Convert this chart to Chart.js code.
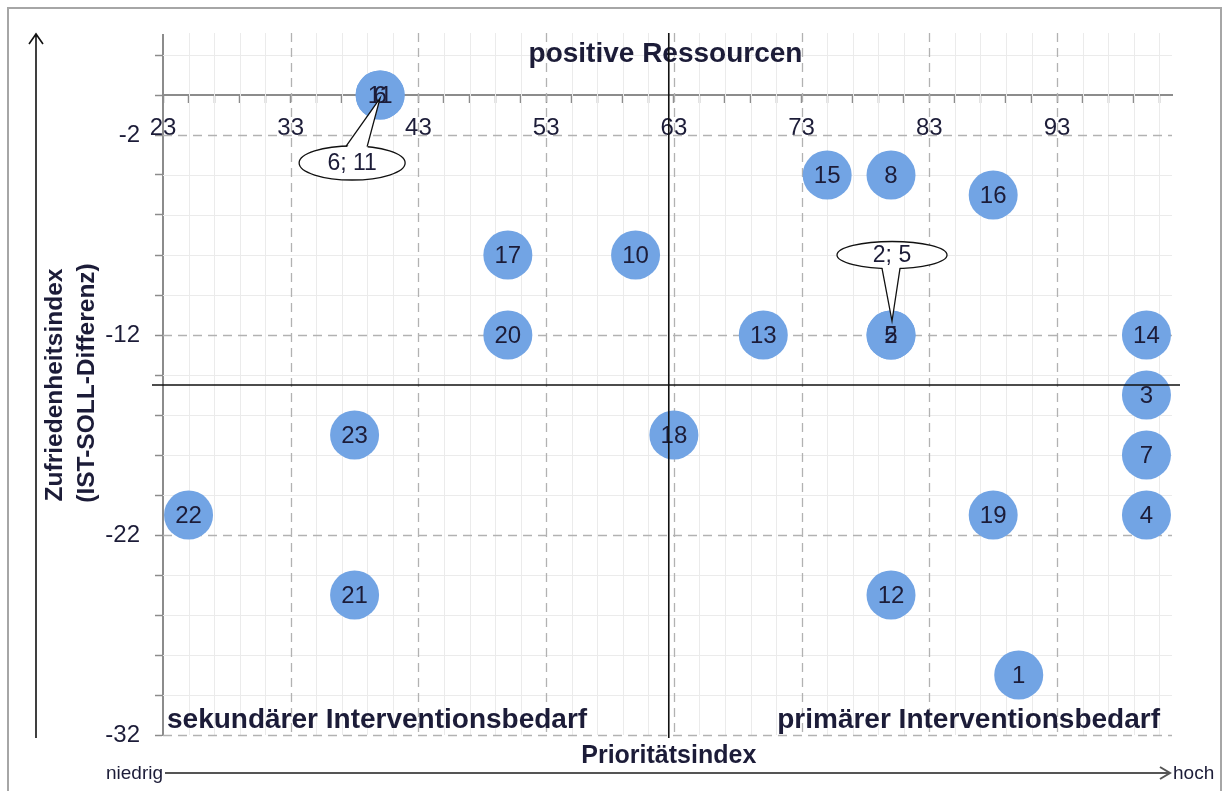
<!DOCTYPE html>
<html>
<head>
<meta charset="utf-8">
<title>Prioritätsindex / Zufriedenheitsindex</title>
<script src="https://cdn.jsdelivr.net/npm/chart.js@4.4.1/dist/chart.umd.min.js"></script>
<style>
  html, body { margin: 0; padding: 0; background: #fff; }
  #chart { display: block; }
</style>
</head>
<body>
<canvas id="chart" width="1227" height="791"></canvas>
<script>
// Punkte: Nummer, Prioritätsindex (x), Zufriedenheitsindex (y)
const pointIds = ["1", "2", "3", "4", "5", "6", "7", "8", "10", "11", "12",
                  "13", "14", "15", "16", "17", "18", "19", "20", "21", "22", "23"];
const prioValues = [90, 80, 100, 100, 80, 40, 100, 80, 60, 40, 80,
                    70, 100, 75, 88, 50, 63, 88, 50, 38, 25, 38];
const zufrValues = [-29, -12, -15, -21, -12, 0, -18, -4, -8, 0, -25,
                    -12, -12, -4, -5, -8, -17, -21, -12, -25, -21, -17];

// Achsen
const xMin = 23, xMax = 102, xStep = 2;
const yMin = -32, yMax = 3, yStep = 2;
const xTickLabels = [23, 33, 43, 53, 63, 73, 83, 93];
const yTickLabels = [-2, -12, -22, -32];

// Quadrantengrenzen
const xSplit = 62.6;
const ySplit = -14.5;

const quadrantLabels = ["positive Ressourcen", "sekundärer Interventionsbedarf", "primärer Interventionsbedarf"];
const xTitle = "Prioritätsindex";
const yTitle = ["Zufriedenheitsindex", "(IST-SOLL-Differenz)"];

const TEXT = "#1c1c38";
const BUBBLE = "rgb(114,164,228)";
const AXIS = "#8c8c8c";
const FONT = "'Liberation Sans', Arial, sans-serif";

const xMinor = [];
for (let v = xMin; v < xMax; v += xStep) xMinor.push(v);
const yMinor = [];
for (let v = yMin; v <= yMax - 1; v += yStep) yMinor.push(v);

const points = pointIds.map((id, i) => ({ x: prioValues[i], y: zufrValues[i], id: id }));

// Punkte, die aufeinander liegen, bekommen eine Sprechblase
function overlapGroups() {
  const seen = {};
  points.forEach(p => {
    const k = p.x + "|" + p.y;
    (seen[k] = seen[k] || []).push(p);
  });
  return Object.values(seen).filter(g => g.length > 1);
}

function ellipseY(dx, rx, ry) {
  return ry * Math.sqrt(Math.max(0, 1 - (dx * dx) / (rx * rx)));
}

function drawCallout(ctx, px, py, text, below) {
  // below: Blase unterhalb (links) des Punkts, sonst oberhalb
  let cx, cy, rx, ry, b1, b2, tipX, tipY;
  if (below) {
    cx = px - 28; cy = py + 68; rx = 53; ry = 17;
    b1 = -6; b2 = 15; tipX = px; tipY = py + 3;
  } else {
    cx = px + 1; cy = py - 80; rx = 55; ry = 13.5;
    b1 = -10; b2 = 8; tipX = px + 1; tipY = py - 14;
  }
  const sgn = below ? -1 : 1;
  const p1 = [cx + b1, cy + sgn * ellipseY(b1, rx, ry)];
  const p2 = [cx + b2, cy + sgn * ellipseY(b2, rx, ry)];

  ctx.save();
  ctx.lineWidth = 1.3;
  ctx.strokeStyle = "#111";
  ctx.fillStyle = "#fff";
  ctx.beginPath();
  ctx.ellipse(cx, cy, rx, ry, 0, 0, Math.PI * 2);
  ctx.fill();
  ctx.stroke();
  // Keil
  ctx.beginPath();
  ctx.moveTo(p1[0], p1[1] - sgn * 2.5);
  ctx.lineTo(tipX, tipY);
  ctx.lineTo(p2[0], p2[1] - sgn * 2.5);
  ctx.closePath();
  ctx.fill();
  ctx.beginPath();
  ctx.moveTo(p1[0], p1[1]);
  ctx.lineTo(tipX, tipY);
  ctx.lineTo(p2[0], p2[1]);
  ctx.stroke();
  ctx.fillStyle = TEXT;
  ctx.font = "23px " + FONT;
  ctx.textAlign = "center";
  ctx.textBaseline = "middle";
  ctx.fillText(text, cx, cy + 1);
  ctx.restore();
}

const decorPlugin = {
  id: "decor",
  beforeDraw(chart) {
    const ctx = chart.ctx;
    ctx.save();
    ctx.fillStyle = "#fff";
    ctx.fillRect(0, 0, chart.width, chart.height);
    ctx.strokeStyle = "#a6a6a6";
    ctx.lineWidth = 2;
    ctx.strokeRect(8, 8, 1213, 800);
    ctx.restore();
  },
  beforeDatasetsDraw(chart) {
    const ctx = chart.ctx;
    const xs = chart.scales.x, ys = chart.scales.y;
    const a = chart.chartArea;
    ctx.save();
    // feines Raster
    ctx.strokeStyle = "#ebebeb";
    ctx.lineWidth = 1;
    xMinor.forEach(v => {
      if (v === xMin || xTickLabels.includes(v)) return;
      const x = Math.round(xs.getPixelForValue(v)) + 0.5;
      ctx.beginPath(); ctx.moveTo(x, a.top - 2); ctx.lineTo(x, a.bottom); ctx.stroke();
    });
    yMinor.forEach(v => {
      if (v === 0 || yTickLabels.includes(v)) return;
      const y = Math.round(ys.getPixelForValue(v)) + 0.5;
      ctx.beginPath(); ctx.moveTo(a.left, y); ctx.lineTo(a.right, y); ctx.stroke();
    });
    // Hauptraster gestrichelt
    ctx.strokeStyle = "#b2b2b2";
    ctx.lineWidth = 1.3;
    ctx.setLineDash([9, 6]);
    xTickLabels.forEach(v => {
      if (v === xMin) return;
      const x = Math.round(xs.getPixelForValue(v)) + 0.5;
      ctx.beginPath(); ctx.moveTo(x, a.top - 2); ctx.lineTo(x, a.bottom); ctx.stroke();
    });
    yTickLabels.forEach(v => {
      const y = Math.round(ys.getPixelForValue(v)) + 0.5;
      ctx.beginPath(); ctx.moveTo(a.left, y); ctx.lineTo(a.right, y); ctx.stroke();
    });
    ctx.restore();
  },
  afterDatasetsDraw(chart) {
    const ctx = chart.ctx;
    const xs = chart.scales.x, ys = chart.scales.y;
    const a = chart.chartArea;
    ctx.save();

    // Nummern in den Kreisen
    ctx.fillStyle = TEXT;
    ctx.font = "24px " + FONT;
    ctx.textAlign = "center";
    ctx.textBaseline = "middle";
    points.forEach(p => {
      ctx.fillText(p.id, xs.getPixelForValue(p.x), ys.getPixelForValue(p.y) + 1);
    });

    // Quadrantentexte
    ctx.font = "bold 28px " + FONT;
    ctx.textBaseline = "alphabetic";
    ctx.textAlign = "center";
    ctx.fillText(quadrantLabels[0], (a.left + a.right) / 2 - 2, a.top + 27);
    ctx.textAlign = "left";
    ctx.fillText(quadrantLabels[1], a.left + 4, a.bottom - 7);
    ctx.textAlign = "right";
    ctx.fillText(quadrantLabels[2], a.right - 12, a.bottom - 7);

    // Quadrantenlinien
    ctx.strokeStyle = "#111";
    ctx.lineWidth = 1.6;
    const qx = xs.getPixelForValue(xSplit);
    const qy = ys.getPixelForValue(ySplit);
    ctx.beginPath(); ctx.moveTo(qx, a.top - 2); ctx.lineTo(qx, a.bottom + 3); ctx.stroke();
    ctx.beginPath(); ctx.moveTo(a.left - 11, qy); ctx.lineTo(a.right + 8, qy); ctx.stroke();

    // Sprechblasen für überlagerte Punkte
    overlapGroups().forEach(g => {
      const text = g.map(p => p.id).sort((m, n) => m - n).join("; ");
      const px = xs.getPixelForValue(g[0].x);
      const py = ys.getPixelForValue(g[0].y);
      drawCallout(ctx, px, py, text, g[0].y >= ys.getValueForPixel(a.top + 100));
    });

    // Achsentitel
    ctx.fillStyle = TEXT;
    ctx.font = "bold 25px " + FONT;
    ctx.textAlign = "center";
    ctx.textBaseline = "alphabetic";
    ctx.fillText(xTitle, qx, a.bottom + 28);

    ctx.save();
    ctx.translate(0, (a.top + a.bottom) / 2);
    ctx.rotate(-Math.PI / 2);
    ctx.font = "bold 24.5px " + FONT;
    ctx.textBaseline = "middle";
    ctx.fillText(yTitle[0], 0, 55);
    ctx.fillText(yTitle[1], 2, 87);
    ctx.restore();

    // Pfeile
    ctx.strokeStyle = "#111";
    ctx.lineWidth = 1.6;
    ctx.beginPath();
    ctx.moveTo(36, a.bottom + 3); ctx.lineTo(36, a.top - 1);
    ctx.moveTo(29, a.top + 9); ctx.lineTo(36, a.top - 1); ctx.lineTo(43, a.top + 9);
    ctx.stroke();

    const ay = a.bottom + 38;
    ctx.strokeStyle = "#555";
    ctx.lineWidth = 2;
    ctx.beginPath();
    ctx.moveTo(a.left + 2, ay); ctx.lineTo(a.right - 2, ay);
    ctx.moveTo(a.right - 12, ay - 6); ctx.lineTo(a.right - 2, ay); ctx.lineTo(a.right - 12, ay + 6);
    ctx.stroke();

    ctx.fillStyle = TEXT;
    ctx.font = "19px " + FONT;
    ctx.textBaseline = "middle";
    ctx.textAlign = "right";
    ctx.fillText("niedrig", a.left, ay + 1);
    ctx.textAlign = "left";
    ctx.fillText("hoch", a.right + 1, ay + 1);

    ctx.restore();
  }
};

const ctx = document.getElementById("chart").getContext("2d");
new Chart(ctx, {
  type: "scatter",
  data: {
    datasets: [{
      data: points,
      backgroundColor: BUBBLE,
      borderWidth: 0,
      pointRadius: 24.5,
      pointHoverRadius: 24.5
    }]
  },
  options: {
    responsive: false,
    animation: false,
    events: [],
    layout: { padding: { top: 35, right: 55, bottom: 56, left: 0 } },
    plugins: {
      legend: { display: false },
      tooltip: { enabled: false }
    },
    scales: {
      x: {
        type: "linear",
        min: xMin,
        max: xMax,
        position: { y: 0 },
        afterBuildTicks: s => { s.ticks = xMinor.map(v => ({ value: v })); },
        grid: { drawOnChartArea: false, drawTicks: true, tickLength: 7, tickColor: AXIS, tickWidth: 1.5 },
        border: { color: AXIS, width: 2 },
        ticks: {
          autoSkip: false,
          maxRotation: 0,
          padding: 12,
          color: TEXT,
          font: { family: FONT, size: 24 },
          callback: v => xTickLabels.includes(v) ? String(v) : ""
        }
      },
      y: {
        type: "linear",
        min: yMin,
        max: yMax,
        position: "left",
        afterBuildTicks: s => { s.ticks = yMinor.map(v => ({ value: v })); },
        afterFit: s => { s.width = 163; },
        grid: { drawOnChartArea: false, drawTicks: true, tickLength: 8, tickColor: AXIS, tickWidth: 1.5 },
        border: { color: AXIS, width: 2 },
        ticks: {
          autoSkip: false,
          padding: 15,
          color: TEXT,
          font: { family: FONT, size: 24 },
          callback: v => yTickLabels.includes(v) ? String(v) : ""
        }
      }
    }
  },
  plugins: [decorPlugin]
});
</script>
</body>
</html>
